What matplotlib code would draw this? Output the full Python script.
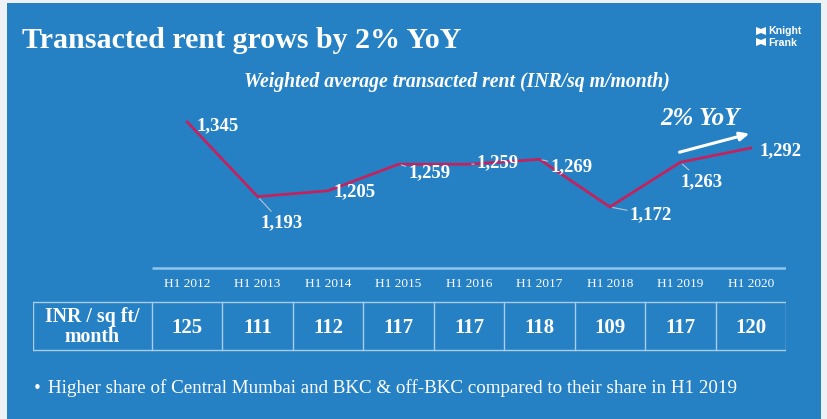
import matplotlib
matplotlib.use("Agg")
import matplotlib.pyplot as plt
from matplotlib.patches import Rectangle, Polygon

# ---------------- data ----------------
periods = ["H1 2012", "H1 2013", "H1 2014", "H1 2015", "H1 2016",
           "H1 2017", "H1 2018", "H1 2019", "H1 2020"]
rent_sqm = [1345, 1193, 1205, 1259, 1259, 1269, 1172, 1263, 1292]
rent_sqft = [125, 111, 112, 117, 117, 118, 109, 117, 120]
row_label = "INR / sq ft/\nmonth"
title = "Transacted rent grows by 2% YoY"
subtitle = "Weighted average transacted rent (INR/sq m/month)"
growth_note = "2% YoY"
bullet = "Higher share of Central Mumbai and BKC & off-BKC compared to their share in H1 2019"

# ---------------- style ----------------
W, H = 828, 419
BLUE = "#2581c4"
LINE = "#c2235e"
WHITE = "white"
GRID = "#a8cdeb"
SERIF = ["Liberation Serif", "DejaVu Serif"]
plt.rcParams["font.family"] = SERIF

# label offsets in pixels (dx, dy up), leader line flag
offsets = [(30, -4, False), (24, -26, True), (26, -1, False), (31, -9, True),
           (29, 1, True), (32, -7, True), (41, -8, True), (21, -19, True),
           (30, -3, False)]

fig = plt.figure(figsize=(W / 100, H / 100), dpi=100)
fig.patch.set_facecolor("#eef1f6")

# background axes in pixel coordinates
bg = fig.add_axes([0, 0, 1, 1])
bg.set_xlim(0, W)
bg.set_ylim(H, 0)
bg.axis("off")
bg.add_patch(Rectangle((7, 3), 814, H, facecolor=BLUE, edgecolor="none"))

bg.text(22, 40, title, color=WHITE, fontsize=21.6, fontweight="bold",
        va="center", ha="left", family=SERIF)
bg.text(457, 82, subtitle, color=WHITE, fontsize=14.2, fontweight="bold",
        style="italic", va="center", ha="center", family=SERIF)

# Knight Frank logo
for y0 in (27, 38):
    bg.add_patch(Polygon([(756, y0), (761, y0 + 2), (766, y0), (766, y0 + 8),
                          (761, y0 + 6), (756, y0 + 8)], closed=True,
                         facecolor=WHITE, edgecolor="none"))
bg.text(768, 31.5, "Knight", color=WHITE, fontsize=7.6, fontweight="bold",
        family=["Liberation Sans Narrow", "Liberation Sans", "DejaVu Sans"],
        va="center", ha="left")
bg.text(768, 42.5, "Frank", color=WHITE, fontsize=7.6, fontweight="bold",
        family=["Liberation Sans Narrow", "Liberation Sans", "DejaVu Sans"],
        va="center", ha="left")

# bullet
bg.text(33, 388, "\u2022", color=WHITE, fontsize=11, va="center", ha="left",
        family="DejaVu Sans")
bg.text(48, 388, bullet, color=WHITE, fontsize=13.7, va="center", ha="left",
        family=SERIF)

# ---------------- line chart ----------------
ax = fig.add_axes([152 / W, (H - 240) / H, 634 / W, 140 / H])
ax.set_xlim(-0.5, len(periods) - 0.5)
ax.set_ylim(1104.7, 1389.8)
ax.axis("off")
xs = list(range(len(periods)))
ax.plot(xs, rent_sqm, color=LINE, lw=2.0, solid_joinstyle="miter", zorder=3)

for x, v, (dx, dy, lead) in zip(xs, rent_sqm, offsets):
    ax.annotate(f"{v:,}", xy=(x, v), xytext=(dx, dy), textcoords="offset pixels",
                ha="center", va="center", color=WHITE, fontsize=13.5,
                fontweight="bold", family=SERIF, zorder=4,
                arrowprops=dict(arrowstyle="-", color="#b9c6d3", lw=0.8,
                                shrinkA=0, shrinkB=2) if lead else None)

# growth note with arrow
ax.annotate("", xy=(8.02, 1390 - (133 - 100) / 0.491), xytext=(6.95, 1390 - (153 - 100) / 0.491),
            arrowprops=dict(arrowstyle="-|>,head_length=0.55,head_width=0.25",
                            color=WHITE, lw=2.2))
bg.text(700, 118, growth_note, color=WHITE, fontsize=18, fontweight="bold",
        style="italic", ha="center", va="center", family=SERIF)

# ---------------- table ----------------
tab = fig.add_axes([33 / W, 0, 753 / W, 1])
col_w = 634 / len(periods)
left_extra = (152 - 33) / col_w
tab.set_xlim(-0.5 - left_extra, len(periods) - 0.5)
tab.set_ylim(H, 0)
tab.axis("off")

top, bot = 302, 350
tab.plot([-0.5, len(periods) - 0.5], [267.5, 267.5], color="#8fc4ec", lw=1.8,
         solid_capstyle="butt")
tab.plot([-0.5 - left_extra, len(periods) - 0.5], [top, top], color=GRID, lw=1)
tab.plot([-0.5 - left_extra, len(periods) - 0.5], [bot, bot], color=GRID, lw=1)
for b in [-0.5 - left_extra] + [i - 0.5 for i in range(len(periods) + 1)]:
    tab.plot([b, b], [top, bot], color=GRID, lw=1)

for i, (p, v) in enumerate(zip(periods, rent_sqft)):
    tab.text(i, 284, p, color=WHITE, fontsize=9.6, ha="center", va="center",
             family=SERIF)
    tab.text(i, 328, str(v), color=WHITE, fontsize=15, fontweight="bold",
             ha="center", va="center", family=SERIF)
tab.text(-0.5 - left_extra / 2, 327, row_label, color=WHITE, fontsize=14.3,
         fontweight="bold", ha="center", va="center", family=SERIF,
         linespacing=1.0)

fig.savefig("out.png", dpi=100, facecolor=fig.get_facecolor())
